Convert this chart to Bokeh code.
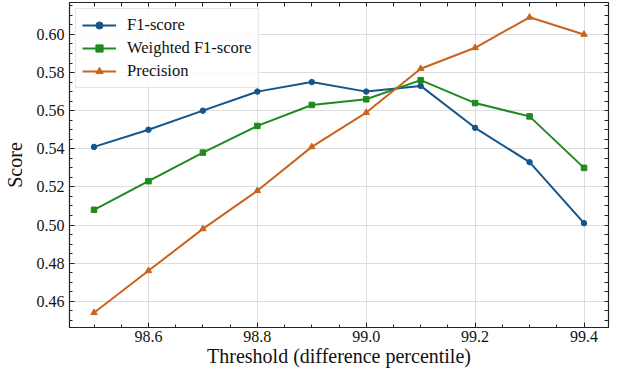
from bokeh.plotting import figure
from bokeh.models import LinearAxis, FixedTicker, Range1d
from bokeh.embed import file_html
from bokeh.resources import INLINE

thresholds = [98.5, 98.6, 98.7, 98.8, 98.9, 99.0, 99.1, 99.2, 99.3, 99.4]
f1_score = [0.541, 0.550, 0.560, 0.570, 0.575, 0.570, 0.573, 0.551, 0.533, 0.501]
weighted_f1 = [0.508, 0.523, 0.538, 0.552, 0.563, 0.566, 0.576, 0.564, 0.557, 0.530]
precision = [0.454, 0.476, 0.498, 0.518, 0.541, 0.559, 0.582, 0.593, 0.609, 0.600]

x_ticks = [98.6, 98.8, 99.0, 99.2, 99.4]
x_tick_labels = ["98.6", "98.8", "99.0", "99.2", "99.4"]
y_ticks = [0.46, 0.48, 0.50, 0.52, 0.54, 0.56, 0.58, 0.60]
y_tick_labels = ["0.46", "0.48", "0.50", "0.52", "0.54", "0.56", "0.58", "0.60"]

FONT = "Liberation Serif"
BLUE = "#14568c"
GREEN = "#1f8a1f"
ORANGE = "#c8641e"

p = figure(width=612, height=369, output_backend="svg", toolbar_location=None,
           x_range=Range1d(98.455, 99.445), y_range=Range1d(0.44625, 0.61675),
           min_border_left=4, min_border_right=4, min_border_top=2, min_border_bottom=2)
p.outline_line_color = "#222222"
p.outline_line_width = 1.2
p.background_fill_color = "white"

p.line(thresholds, f1_score, line_color=BLUE, line_width=2, legend_label="F1-score")
p.scatter(thresholds, f1_score, marker="circle", size=5.5, color=BLUE, legend_label="F1-score")
p.line(thresholds, weighted_f1, line_color=GREEN, line_width=2, legend_label="Weighted F1-score")
p.scatter(thresholds, weighted_f1, marker="square", size=5.5, color=GREEN, legend_label="Weighted F1-score")
p.line(thresholds, precision, line_color=ORANGE, line_width=2, legend_label="Precision")
p.scatter(thresholds, precision, marker="triangle", size=6.5, color=ORANGE, legend_label="Precision")

x_minor = [round(98.45 + 0.05 * i, 2) for i in range(21)]
y_minor = [round(0.445 + 0.005 * i, 3) for i in range(36)]

def style_axis(ax, ticks, minor, labels):
    ax.ticker = FixedTicker(ticks=ticks, minor_ticks=minor)
    ax.major_tick_in = 5
    ax.major_tick_out = 0
    ax.minor_tick_in = 3
    ax.minor_tick_out = 0
    ax.axis_line_color = None
    ax.major_tick_line_color = "#222222"
    ax.minor_tick_line_color = "#222222"
    ax.major_label_text_font = FONT
    ax.major_label_text_font_size = "16px"
    ax.major_label_text_color = "#111111"
    ax.axis_label_text_font = FONT
    ax.axis_label_text_font_style = "normal"
    ax.axis_label_text_font_size = "20px"
    ax.axis_label_text_color = "#111111"
    ax.major_label_overrides = {t: l for t, l in zip(ticks, labels)}

for ax in p.xaxis:
    style_axis(ax, x_ticks, x_minor, x_tick_labels)
    ax.major_label_standoff = 3
    ax.axis_label_standoff = 0
p.xaxis.axis_label = "Threshold (difference percentile)"

for ax in p.yaxis:
    style_axis(ax, y_ticks, y_minor, y_tick_labels)
    ax.major_label_standoff = 5
    ax.axis_label_standoff = 8
p.yaxis.axis_label = "Score"

# mirrored tick marks on top and right (no labels: only minor ticks used)
def mirror_axis(minor_all):
    ax = LinearAxis(ticker=FixedTicker(ticks=[], minor_ticks=minor_all))
    ax.axis_line_color = None
    ax.minor_tick_in = 4
    ax.minor_tick_out = 0
    ax.major_tick_in = 0
    ax.major_tick_out = 0
    ax.minor_tick_line_color = "#222222"
    ax.major_label_standoff = 0
    return ax

p.add_layout(mirror_axis(x_minor), "above")
p.add_layout(mirror_axis(y_minor), "right")

p.xgrid.ticker = FixedTicker(ticks=x_ticks)
p.ygrid.ticker = FixedTicker(ticks=y_ticks)
p.grid.grid_line_color = "#dddddd"
p.grid.grid_line_width = 1

lg = p.legend[0]
lg.location = "top_left"
lg.label_text_font = FONT
lg.label_text_font_size = "16.5px"
lg.label_text_color = "#111111"
lg.glyph_width = 34
lg.glyph_height = 18
lg.spacing = 3
lg.padding = 6
lg.margin = 6
lg.label_standoff = 11
lg.border_line_color = "#cccccc"
lg.border_line_width = 1
lg.background_fill_alpha = 0.85

open("out.html", "w").write(file_html(p, INLINE))
